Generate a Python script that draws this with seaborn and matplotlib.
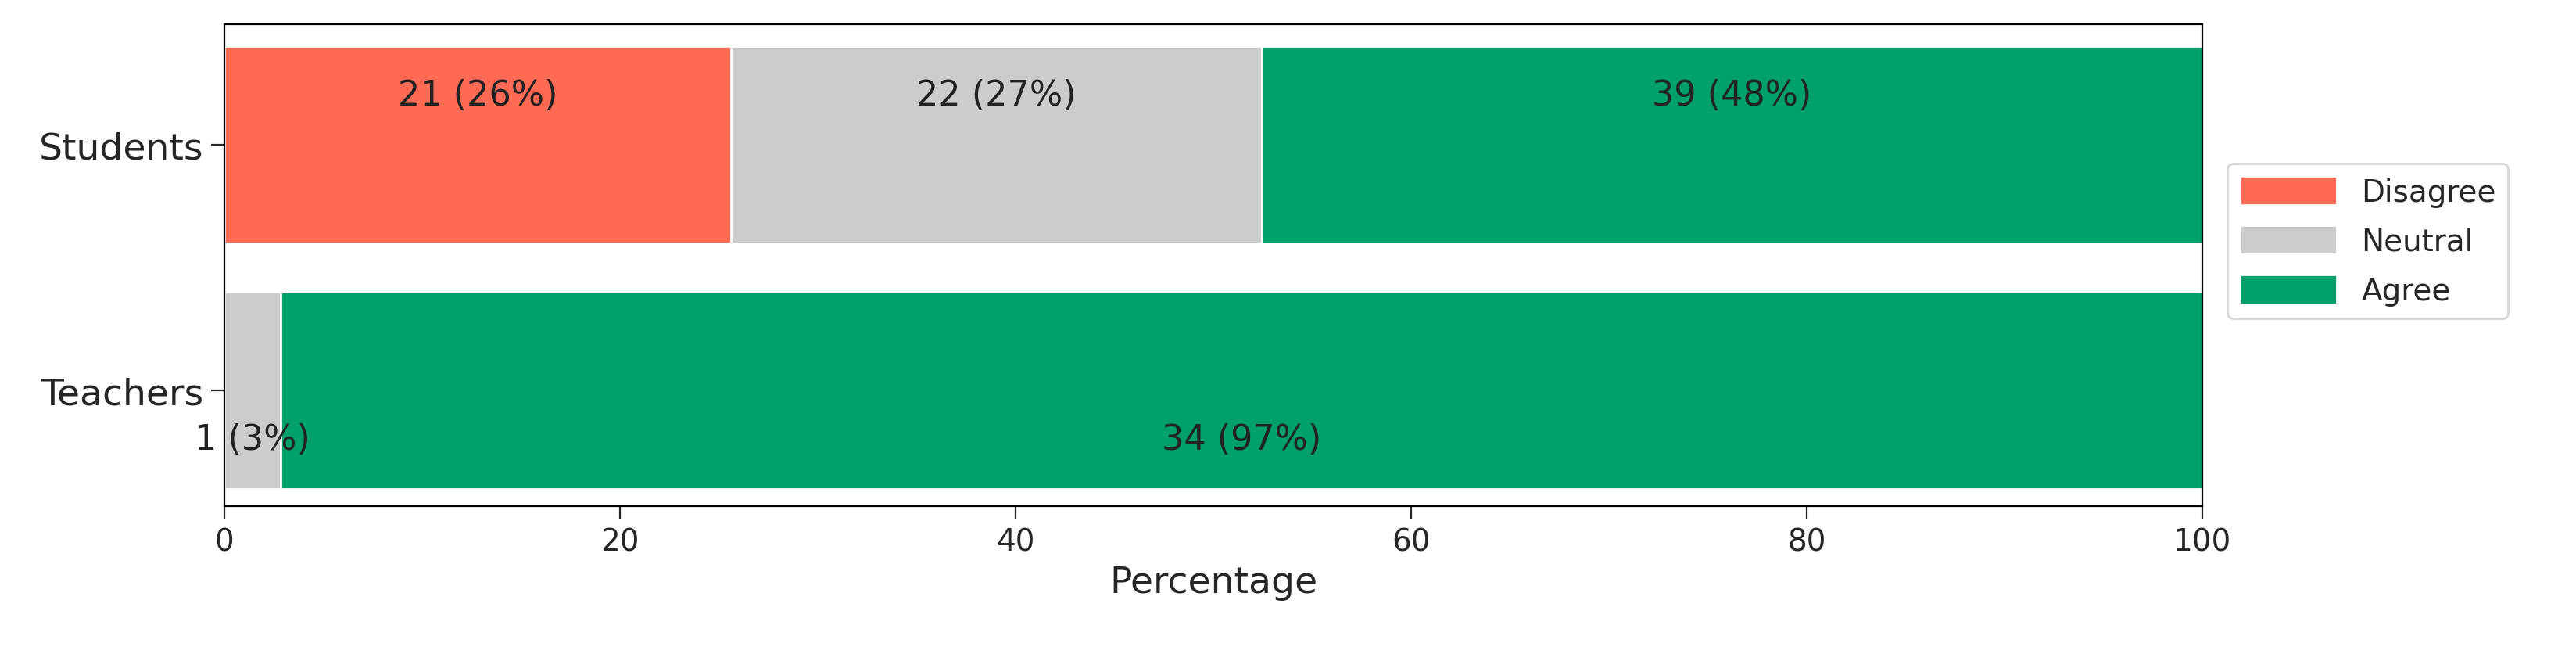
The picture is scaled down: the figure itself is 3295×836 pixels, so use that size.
import matplotlib
matplotlib.use("Agg")
import matplotlib.pyplot as plt
import seaborn as sns
import numpy as np
import pandas as pd

groups = ["Students", "Teachers"]
responses = ["Disagree", "Neutral", "Agree"]
disagree = [21, 0]
neutral = [22, 1]
agree = [39, 34]
colors = {"Disagree": "#FF6A55", "Neutral": "#CCCCCC", "Agree": "#00A06B"}

counts = np.array([disagree, neutral, agree], dtype=float)
pct = counts / counts.sum(axis=0) * 100
cum = np.cumsum(pct, axis=0)

sns.set_style("ticks")
plt.rcParams["font.family"] = ["DejaVu Sans"]
fig = plt.figure(figsize=(16.475, 4.185), dpi=200)
ax = fig.add_axes([0.087, 0.226, 0.768, 0.736])

# draw stacked bars from the widest cumulative total down
for i in reversed(range(len(responses))):
    df = pd.DataFrame({"group": groups, "value": cum[i]})
    sns.barplot(data=df, x="value", y="group", orient="h", color=colors[responses[i]],
                width=0.8, saturation=1, ax=ax, label=responses[i])

for j in range(len(groups)):
    for i in range(len(responses)):
        if counts[i, j] == 0:
            continue
        start = cum[i, j] - pct[i, j]
        ax.text(start + pct[i, j] / 2, j + (-0.2 if j == 0 else 0.2),
                f"{int(counts[i, j])} ({pct[i, j]:.0f}%)", ha="center", va="center",
                fontsize=16, color="#222222")

ax.set_xlim(0, 100)
ax.set_ylim(1.47, -0.49)
ax.set_xlabel("Percentage", fontsize=17)
ax.set_ylabel("")
ax.tick_params(axis="y", labelsize=17, length=6)
ax.tick_params(axis="x", labelsize=14, length=6)
h, l = ax.get_legend_handles_labels()
order = [l.index(r) for r in responses]
ax.legend([h[k] for k in order], responses, loc="center left", bbox_to_anchor=(1.005, 0.55),
          fontsize=14, frameon=True, handlelength=3.2, handleheight=1.1, labelspacing=0.6)
for s in ax.spines.values():
    s.set_visible(True)
    s.set_color("black")
plt.savefig("out.png")
